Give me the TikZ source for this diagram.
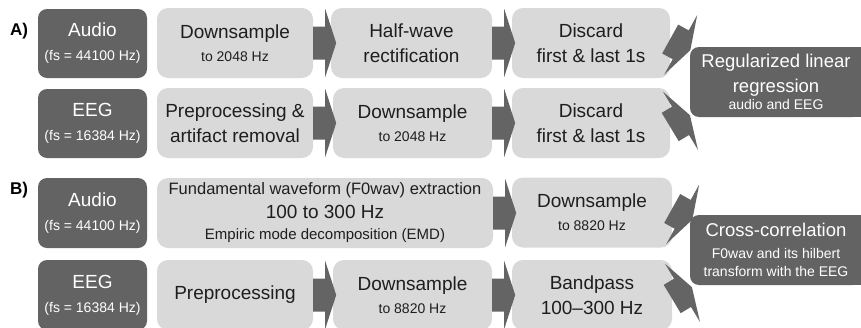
\documentclass[tikz,border=0pt]{standalone}
\usepackage{fontspec}
\setmainfont{Liberation Sans}
\usetikzlibrary{calc}

\definecolor{darkfill}{HTML}{636363}
\definecolor{lightfill}{HTML}{D9D9D9}
\definecolor{arrowfill}{HTML}{646464}
\definecolor{inktext}{HTML}{1E1E1E}

\newcommand{\bigt}{\fontsize{19}{25}\selectfont}
\newcommand{\headt}{\fontsize{18.5}{25}\selectfont}
\newcommand{\midt}{\fontsize{16.5}{20}\selectfont}
\newcommand{\smallt}{\fontsize{14}{17}\selectfont}
\newcommand{\emdt}{\fontsize{15}{18}\selectfont}

% block arrow: shaft 12 x 33, head 11 x 68, starting at #1 and turned by #2 degrees
\newcommand{\blockarrow}[2]{%
  \fill[arrowfill, shift={(#1)}, rotate=#2]
    (0,-16.5) -- (12,-16.5) -- (12,-34) -- (23,0) -- (12,34) -- (12,16.5) -- (0,16.5) -- cycle;}

\begin{document}
\begin{tikzpicture}[x=1pt, y=-1pt,
  lightbox/.style={fill=lightfill, rounded corners=11pt, inner sep=0pt,
    text=inktext, align=center, minimum height=70pt, font=\bigt},
  darkbox/.style={fill=darkfill, rounded corners=9pt, inner sep=0pt,
    text=white, align=center, minimum height=69pt, font=\bigt},
  panel/.style={font=\fontsize{17}{20}\selectfont\bfseries, text=black}]

\useasboundingbox (0,0) rectangle (861,327);
\clip (0,0) rectangle (861,327);

% ---------- A) ----------
\node[panel] (labA) at (19,31) {A)};

\node[lightbox, minimum width=156pt] (dsA) at (235,43)
  {Downsample\\[-2pt]{\smallt to 2048 Hz}};
\node[lightbox, minimum width=161pt] (hwA) at (411.5,43)
  {Half-wave\\rectification};
\node[lightbox, minimum width=158pt] (dcA1) at (591,43)
  {Discard\\first \& last 1s};

\node[lightbox, minimum width=156pt] (ppA) at (235,123)
  {Preprocessing \&\\artifact removal};
\node[lightbox, minimum width=159pt] (dsA2) at (412.5,123)
  {Downsample\\[-2pt]{\smallt to 2048 Hz}};
\node[lightbox, minimum width=158pt] (dcA2) at (591,123)
  {Discard\\first \& last 1s};

\blockarrow{dsA.east}{0}
\blockarrow{hwA.east}{0}
\blockarrow{ppA.east}{0}
\blockarrow{dsA2.east}{0}
\blockarrow{$(dcA1.east)+(0,-4)$}{-29}
\blockarrow{$(dcA2.east)+(0,4)$}{31}

\node[darkbox, minimum width=109pt] (audA) at (92.5,43.5)
  {Audio\\[-1pt]{\smallt (fs = 44100 Hz)}};
\node[darkbox, minimum width=109pt] (eegA) at (92.5,123.5)
  {EEG\\[-1pt]{\smallt (fs = 16384 Hz)}};

\fill[darkfill] (776,47) rectangle (875,117);
\node[darkbox, minimum width=172pt, minimum height=70pt, font=\headt] (regA) at (776,82)
  {Regularized linear\\regression\\[-8pt]{\smallt audio and EEG}};

% ---------- B) ----------
\node[panel] (labB) at (19,190) {B)};

\node[lightbox, minimum width=336pt] (f0B) at (325,213)
  {{\midt Fundamental waveform (F0wav) extraction}\\[-1pt]100 to 300 Hz\\[-4pt]{\emdt Empiric mode decomposition (EMD)}};
\node[lightbox, minimum width=160pt] (dsB1) at (592,212.5)
  {Downsample\\[-2pt]{\smallt to 8820 Hz}};

\node[lightbox, minimum width=156pt] (ppB) at (235,295)
  {Preprocessing};
\node[lightbox, minimum width=159pt] (dsB2) at (412.5,295)
  {Downsample\\[-2pt]{\smallt to 8820 Hz}};
\node[lightbox, minimum width=160pt] (bpB) at (592,295)
  {Bandpass\\100--300 Hz};

\blockarrow{f0B.east}{0}
\blockarrow{ppB.east}{0}
\blockarrow{dsB2.east}{0}
\blockarrow{$(dsB1.east)+(0,-4)$}{-29}
\blockarrow{$(bpB.east)+(0,4)$}{31}

\node[darkbox, minimum width=109pt, minimum height=70pt] (audB) at (92.5,213)
  {Audio\\[-1pt]{\smallt (fs = 44100 Hz)}};
\node[darkbox, minimum width=109pt, minimum height=70pt] (eegB) at (92.5,295)
  {EEG\\[-1pt]{\smallt (fs = 16384 Hz)}};

\fill[darkfill] (776,215) rectangle (875,285);
\node[darkbox, minimum width=172pt, minimum height=70pt, font=\headt] (ccB) at (776,250)
  {Cross-correlation\\[-3pt]{\smallt F0wav and its hilbert}\\[-7pt]{\smallt transform with the EEG}};

\end{tikzpicture}
\end{document}
